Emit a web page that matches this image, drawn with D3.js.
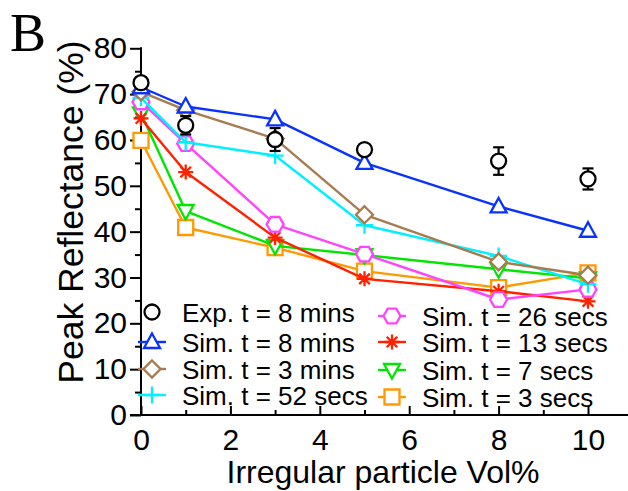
<!DOCTYPE html>
<html><head><meta charset="utf-8">
<script src="https://cdn.jsdelivr.net/npm/d3@7"></script>
<style>body{margin:0;background:#fff}svg{display:block}text{font-family:"Liberation Sans",Arial,sans-serif;fill:#000}</style>
</head><body>
<svg id="c" width="628" height="491"></svg>
<script>
const xVals = [0, 1, 3, 5, 8, 10];
const seriesNames = ["Exp. t = 8 mins","Sim. t = 8 mins","Sim. t = 3 mins","Sim. t = 52 secs","Sim. t = 26 secs","Sim. t = 13 secs","Sim. t = 7 secs","Sim. t = 3 secs"];
const expVals = [72.5, 63.2, 60.1, 57.9, 55.4, 51.5];
const expErr  = [1.2, 2.0, 2.5, 1.0, 3.0, 2.3];
const sim8min  = [71.5, 67.3, 64.5, 55.0, 45.5, 40.2];
const sim3min  = [70.5, 66.5, 60.3, 43.7, 33.4, 30.5];
const sim52s   = [69.2, 59.5, 56.6, 41.4, 34.7, 28.5];
const sim26s   = [68.3, 59.2, 41.6, 35.1, 25.2, 27.4];
const sim13s   = [64.7, 53.0, 38.7, 29.7, 27.0, 24.8];
const sim7s    = [65.8, 44.5, 36.9, 34.9, 31.8, 29.8];
const sim3s    = [59.9, 40.9, 36.5, 31.4, 27.8, 31.0];
const yTicks = [0,10,20,30,40,50,60,70,80];
const yMinor = [5,15,25,35,45,55,65,75];
const xTicks = [0,2,4,6,8,10];
const xMinor = [1,3,5,7,9];

const colors = ["#000000","#0a32ff","#a87b4f","#00f0ff","#ff44ff","#ff2200","#00e600","#ff9900"];
const shapes = ["circle","triangle","diamond","plus","hexagon","star","triangleDown","square"];
const simData = [sim8min, sim3min, sim52s, sim26s, sim13s, sim7s, sim3s];

function markerPath(t){
  switch(t){
    case "circle": return "M7.5,0A7.5,7.5 0 1,1 -7.5,0A7.5,7.5 0 1,1 7.5,0Z";
    case "triangle": return "M0,-8.5L8,6L-8,6Z";
    case "triangleDown": return "M0,8.5L8,-6L-8,-6Z";
    case "diamond": return "M0,-8.5L8.5,0L0,8.5L-8.5,0Z";
    case "square": return "M-7.5,-7.5H7.5V7.5H-7.5Z";
    case "hexagon": return "M-8.5,0L-4.3,-7.3H4.3L8.5,0L4.3,7.3H-4.3Z";
    case "plus": return "M-8.5,0H8.5M0,-8.5V8.5";
    case "star": return "M-7.5,0H7.5M0,-7.5V7.5M-5.3,-5.3L5.3,5.3M-5.3,5.3L5.3,-5.3";
  }
}
const filled = t => !(t==="plus"||t==="star");

const svg = d3.select("#c");
const x = d3.scaleLinear().domain([0,10]).range([141,588]);
const y = d3.scaleLinear().domain([0,80]).range([415,48.3]);

// Panel label
svg.append("text").attr("x",10).attr("y",51).style("font-family","'Liberation Serif','Times New Roman',serif")
  .style("font-size","54px").text("B");

// Y axis
const yAx = svg.append("g").attr("transform","translate(141,0)")
  .call(d3.axisLeft(y).tickValues(yTicks).tickSize(11).tickPadding(3));
yAx.select(".domain").remove();
yAx.selectAll("line").attr("stroke","#000").attr("stroke-width",2);
yAx.selectAll("text").style("font-size","30px").style("font-family","'Liberation Sans',Arial,sans-serif");
const yAm = svg.append("g").attr("transform","translate(141,0)")
  .call(d3.axisLeft(y).tickValues(yMinor).tickSize(6).tickFormat(""));
yAm.select(".domain").remove();
yAm.selectAll("line").attr("stroke","#000").attr("stroke-width",2);
svg.append("line").attr("x1",141).attr("x2",141).attr("y1",y(80)-1).attr("y2",y(0)+1).attr("stroke","#000").attr("stroke-width",2);

// X axis
const xAx = svg.append("g").attr("transform","translate(0,415)")
  .call(d3.axisBottom(x).tickValues(xTicks).tickSizeInner(-9).tickSizeOuter(0).tickPadding(14));
xAx.select(".domain").remove();
xAx.selectAll("line").attr("stroke","#000").attr("stroke-width",2);
xAx.selectAll("text").style("font-size","30px").style("font-family","'Liberation Sans',Arial,sans-serif");
const xAm = svg.append("g").attr("transform","translate(0,415)")
  .call(d3.axisBottom(x).tickValues(xMinor).tickSizeInner(-5).tickSizeOuter(0).tickFormat(""));
xAm.select(".domain").remove();
xAm.selectAll("line").attr("stroke","#000").attr("stroke-width",2);
svg.append("line").attr("x1",130).attr("x2",628).attr("y1",415).attr("y2",415).attr("stroke","#000").attr("stroke-width",2);

// Titles
svg.append("text").attr("x",383).attr("y",483).attr("text-anchor","middle").style("font-size","32px").text("Irregular particle Vol%");
svg.append("text").attr("transform","translate(83,212) rotate(-90)").attr("text-anchor","middle").style("font-size","35.5px").text("Peak Reflectance (%)");

// Series lines (draw in reverse so top series above)
const line = d3.line().x((d,i)=>x(xVals[i])).y(d=>y(d));
const plot = svg.append("g");
for(let k=simData.length-1;k>=0;k--){
  const c = colors[k+1], s = shapes[k+1];
  plot.append("path").datum(simData[k]).attr("d",line).attr("fill","none").attr("stroke",c).attr("stroke-width",2.4).attr("stroke-linejoin","round");
  plot.selectAll(null).data(simData[k]).enter().append("path")
    .attr("transform",(d,i)=>`translate(${x(xVals[i])},${y(d)})`)
    .attr("d",markerPath(s)).attr("fill",filled(s)?"#fff":"none").attr("stroke",c).attr("stroke-width",2.3);
}
// Experimental with error bars
const eg = plot.append("g");
expVals.forEach((v,i)=>{
  const cx = x(xVals[i]);
  eg.append("line").attr("x1",cx).attr("x2",cx).attr("y1",y(v+expErr[i])).attr("y2",y(v-expErr[i])).attr("stroke","#000").attr("stroke-width",2.2);
  [v+expErr[i], v-expErr[i]].forEach(e=>eg.append("line").attr("x1",cx-5.5).attr("x2",cx+5.5).attr("y1",y(e)).attr("y2",y(e)).attr("stroke","#000").attr("stroke-width",2.2));
});
eg.selectAll(null).data(expVals).enter().append("path")
  .attr("transform",(d,i)=>`translate(${x(xVals[i])},${y(d)})`)
  .attr("d",markerPath("circle")).attr("fill","#fff").attr("stroke","#000").attr("stroke-width",2.3);

// Legend
const legPos = [[152,312],[152,342],[152,369],[152,395],[392,316],[392,342],[392,370],[392,397]];
seriesNames.forEach((n,i)=>{
  const [mx,my] = legPos[i];
  const g = svg.append("g");
  if(i>0) g.append("line").attr("x1",mx-14).attr("x2",mx+14).attr("y1",my).attr("y2",my).attr("stroke",colors[i]).attr("stroke-width",2.4);
  g.append("path").attr("transform",`translate(${mx},${my})`).attr("d",markerPath(shapes[i]))
    .attr("fill",filled(shapes[i])?"#fff":"none").attr("stroke",colors[i]).attr("stroke-width",2.3);
  g.append("text").attr("x",mx+30).attr("y",my+9.5).style("font-size","26px").text(n);
});
</script>
</body></html>
